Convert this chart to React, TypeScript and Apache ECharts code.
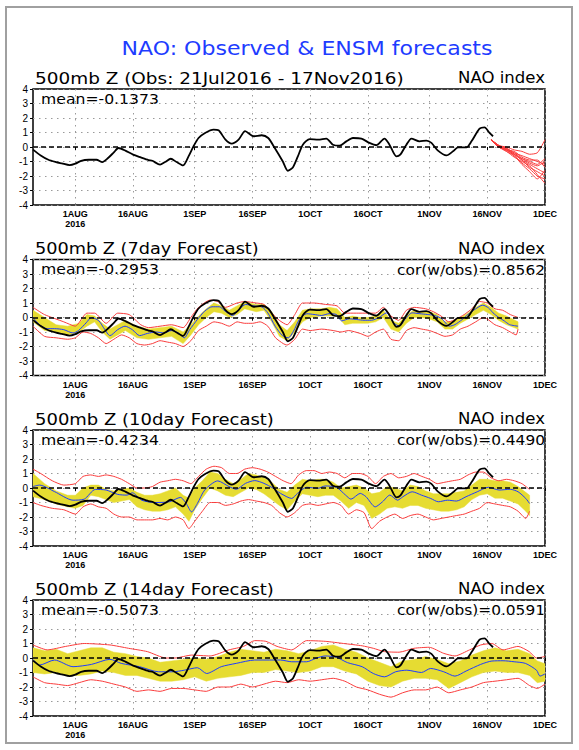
import React, { useEffect, useRef } from "react";
import * as echarts from "echarts";

// ---------- texts ----------
const TITLE = "NAO: Observed & ENSM forecasts";
const headers = [
  "500mb Z (Obs: 21Jul2016 - 17Nov2016)",
  "500mb Z (7day Forecast)",
  "500mb Z (10day Forecast)",
  "500mb Z (14day Forecast)",
];
const indexLabel = "NAO index";
const meanLabels = ["mean=-0.1373", "mean=-0.2953", "mean=-0.4234", "mean=-0.5073"];
const corLabels = ["", "cor(w/obs)=0.8562", "cor(w/obs)=0.4490", "cor(w/obs)=0.0591"];

// x axis: days since 21 Jul 2016
const tickDays = [11, 26, 42, 57, 72, 87, 103, 118, 133];
const tickLabels = ["1AUG\n2016", "16AUG", "1SEP", "16SEP", "1OCT", "16OCT", "1NOV", "16NOV", "1DEC"];
const yTicks = [-4, -3, -2, -1, 0, 1, 2, 3, 4];

// ---------- observed NAO [day, value] ----------
const observed: [number, number][] = [
  [0, -0.18], [2, -0.58], [4, -0.88], [6, -1.04], [7.5, -1.13], [9.5, -1.25], [11, -1.15], [12.5, -0.95],
  [14.5, -0.88], [16.5, -0.88], [18, -1.04], [19.5, -0.76], [21, -0.37], [22.2, -0.07], [24, -0.25],
  [26, -0.53], [28, -0.72], [30, -0.9], [31, -0.95], [33, -1.22], [34.3, -1.04], [35.8, -0.81],
  [37.3, -1.04], [39, -1.27], [40.4, -0.65], [41.7, 0.05], [43, 0.62], [44.7, 0.97], [46.9, 1.2],
  [48.2, 1.15], [50, 0.51], [51.6, 0.23], [53.4, 0.51], [55.1, 1.09], [57.3, 0.74], [59.4, 0.81],
  [61.1, 0.62], [62.8, -0.07], [64.9, -1.0], [66.2, -1.64], [67.5, -1.41], [68.8, -0.65], [70.1, 0.16],
  [71.9, 0.55], [74.1, 0.51], [76.2, 0.58], [77.9, 0.16], [79.6, 0.09], [81.4, 0.39], [83.1, 0.62],
  [85.3, 0.58], [87.4, 0.28], [89.2, 0.12], [91.3, 0.58], [92.6, 0.16], [94.4, -0.65], [95.4, -0.53],
  [97, 0.16], [98.3, 0.58], [100.4, 0.39], [102.2, 0.44], [103.5, 0.28], [105.2, -0.25], [107.4, -0.58],
  [109.1, -0.3], [110.4, -0.02], [112.6, -0.02], [113.9, 0.39], [116, 1.27], [117.3, 1.36], [118.6, 0.97],
  [119.5, 0.74],
];

// ---------- panel 1: ensemble members (17Nov -> 1Dec) ----------
const memberDays = [119, 121, 123, 125, 127, 129, 131, 133];
const members: number[][] = [
  [0.5, 0.1, -0.1, -0.4, -0.6, -0.8, -1.0, -1.2],
  [0.5, 0.0, -0.2, -0.5, -0.9, -1.2, -1.5, -1.8],
  [0.5, 0.1, 0.0, -0.2, -0.3, -0.5, -0.4, 0.5],
  [0.5, 0.0, -0.3, -0.7, -1.0, -1.3, -1.9, -2.5],
  [0.5, 0.1, -0.2, -0.6, -1.1, -1.5, -2.0, -2.2],
  [0.5, 0.0, -0.1, -0.4, -0.8, -1.1, -1.3, -1.0],
  [0.5, 0.0, -0.3, -0.6, -1.2, -1.7, -2.2, -1.6],
  [0.5, 0.1, -0.2, -0.3, -0.7, -0.9, -0.9, -1.4],
  [0.5, 0.0, -0.2, -0.5, -0.9, -1.4, -1.7, -2.0],
  [0.5, 0.1, -0.1, -0.5, -0.8, -1.0, -1.2, -0.8],
];

// ---------- panel 2: 7day forecast ----------
const mean7: [number, number][] = [
  [0, 0], [1.7, -0.5], [3.7, -0.77], [5.6, -0.77], [8, -0.84], [10.4, -1.07], [11.8, -0.9], [13.8, -0.37],
  [15.2, 0], [17.1, -0.23], [18.6, -0.81], [20, -1.25], [22, -0.84], [23.9, -0.6], [25.8, -0.84],
  [27.7, -1.25], [29.7, -1.1], [32, -1.0], [34, -1.07], [35.9, -0.9], [37.8, -1.07], [39.3, -1.4],
  [40.7, -0.84], [42.7, -0.14], [44.6, 0.44], [46.5, 0.74], [48.4, 0.74], [49.9, 0.44], [51.8, 0.14],
  [53.7, 0.58], [55.2, 0.9], [57.6, 0.79], [59.5, 0.72], [61, 0.32], [62.9, -0.6], [64.8, -1.25],
  [66.3, -1.4], [67.7, -0.93], [69.2, -0.14], [71.1, 0.26], [73, 0.21], [74.9, 0.14], [76.9, 0.26],
  [78.8, 0.21], [80.2, -0.23], [82.2, -0.09], [84.1, -0.14], [86, -0.19], [87.9, -0.19], [89.9, 0],
  [91.8, 0.32], [93.7, -0.37], [95.2, -0.6], [96.6, -0.14], [98.5, 0.32], [100.5, 0.26], [102.4, 0.21],
  [104.3, 0.14], [106.2, -0.09], [108.2, -0.6], [109.6, -0.49], [111.5, -0.14], [113, 0.21],
  [114.9, 0.58], [116.8, 0.85], [118.3, 0.67], [119.5, 0.32], [120.9, 0.02], [122.4, -0.23],
  [123.8, -0.49], [126, -0.6],
];
const band7Days = [0, 3, 6, 9, 12, 14, 16, 18, 20, 22, 24, 27, 30, 33, 36, 39, 41, 43, 45, 47, 49, 51, 53, 55, 58, 60, 62, 64, 66, 68, 70, 72, 75, 77, 79, 81, 83, 85, 87, 89, 91, 93, 95, 97, 99, 101, 103, 105, 107, 109, 111, 113, 115, 117, 119, 121, 123, 126];
const band7Upper = [0.5, 0.0, -0.5, -0.6, -0.4, 0.2, 0.1, -0.4, -0.8, -0.5, -0.2, -0.6, -0.8, -0.7, -0.6, -1.0, -0.5, 0.1, 0.6, 1.0, 0.8, 0.5, 0.8, 1.1, 0.9, 0.9, 0.4, -0.5, -0.9, -0.3, 0.5, 0.6, 0.6, 0.7, 0.6, 0.0, 0.1, 0.0, 0.0, 0.1, 0.5, -0.2, -0.4, 0.2, 0.5, 0.4, 0.4, 0.2, -0.3, -0.3, 0.0, 0.3, 0.7, 1.0, 0.7, 0.3, 0.1, -0.3];
const band7Lower = [-0.3, -0.9, -1.0, -1.2, -1.0, -0.6, -0.3, -1.0, -1.5, -1.2, -0.9, -1.4, -1.5, -1.4, -1.3, -1.8, -1.2, -0.5, 0.0, 0.4, 0.3, 0.0, 0.2, 0.6, 0.4, 0.5, -0.3, -1.3, -1.6, -1.0, -0.3, 0.0, 0.1, 0.1, 0.1, -0.5, -0.4, -0.4, -0.4, -0.3, 0.0, -0.8, -1.0, -0.4, 0.0, 0.0, -0.1, -0.3, -0.8, -0.8, -0.4, -0.1, 0.2, 0.5, 0.2, -0.2, -0.5, -0.8];
const red7Upper: [number, number][] = [
  [0, 0.7], [3, 0.2], [8, -0.3], [11, -0.6], [14, 0.3], [16, 0.3], [19, -0.4], [22, 0.3], [25, 0.2],
  [28, -0.5], [30, -0.7], [33, -0.6], [36, -0.5], [39, -0.7], [41, 0.0], [43, 0.7], [46, 1.2], [48, 1.1],
  [50, 0.7], [53, 1.0], [55, 1.1], [58, 1.0], [60, 0.9], [62, 0.3], [64, -0.2], [66, -0.5], [68, 0.2],
  [70, 1.0], [73, 1.0], [76, 0.9], [79, 0.8], [81, 0.3], [84, 0.3], [87, 0.3], [89, 0.3], [91, 0.7],
  [93, 0.1], [95, -0.2], [97, 0.5], [99, 0.7], [102, 0.6], [104, 0.4], [106, 0.1], [108, -0.3],
  [110, -0.1], [112, 0.2], [114, 0.6], [116, 1.1], [118, 1.0], [120, 0.6], [122, 0.5], [124, 0.2], [126, 0.0],
];
const red7Lower: [number, number][] = [
  [0, -0.6], [3, -1.3], [6, -1.4], [9, -1.5], [11, -1.4], [13, -1.0], [15, -1.1], [17, -1.4], [19, -1.8],
  [21, -1.5], [23, -1.2], [25, -1.4], [27, -1.8], [29, -1.9], [31, -1.8], [33, -1.6], [35, -1.7],
  [37, -1.8], [39, -2.0], [41, -1.6], [43, -0.9], [45, -0.6], [47, -0.3], [49, -0.4], [51, -0.6],
  [53, -0.3], [55, -0.4], [57, -0.4], [59, -0.3], [61, -0.6], [63, -1.4], [65, -1.8], [66, -1.9],
  [68, -1.5], [70, -0.8], [72, -0.9], [75, -0.8], [78, -0.9], [80, -1.0], [82, -0.9], [85, -1.1],
  [87, -1.3], [89, -1.0], [91, -0.8], [93, -1.5], [95, -1.6], [97, -0.9], [99, -0.7], [101, -0.8],
  [103, -0.9], [105, -1.1], [107, -1.3], [109, -1.2], [111, -0.8], [113, -0.6], [115, -0.3], [117, 0.0],
  [118, -0.1], [120, -0.5], [122, -0.7], [124, -1.0], [125.5, -1.2], [126, -0.8],
];

// ---------- panel 3: 10day forecast ----------
const mean10: [number, number][] = [
  [0, 0.1], [1.7, 0.2], [5.6, -0.25], [10.4, -0.84], [13.3, -0.77], [16.2, -0.1], [19, -0.14], [22, -0.44],
  [24.4, -0.49], [25.8, -0.33], [28.2, -0.84], [31.6, -1.0], [35.4, -0.95], [38.3, -0.65], [39.8, -1.07],
  [41.2, -1.65], [42.7, -1.07], [44.6, -0.14], [48, 0.49], [50.9, 0.1], [52.8, -0.09], [55.2, 0.32],
  [57.6, 0.51], [60, 0.32], [62.4, -0.02], [64.3, -0.37], [67.2, -0.72], [68.7, -0.37], [71.1, 0.05],
  [74, -0.02], [75.9, 0.14], [78.8, 0.05], [81.2, -0.49], [82.6, -0.77], [85, -0.37], [86.5, -0.6],
  [88.9, -1.3], [90.8, -0.95], [92.7, -0.49], [94.7, -0.84], [96.1, -0.6], [98.5, -0.26], [100.9, -0.49],
  [103.3, -0.72], [105.3, -0.95], [107.7, -0.84], [110, -0.9], [112.5, -0.6], [115.4, -0.26],
  [118.3, 0.05], [121.1, -0.14], [124, -0.09], [126, -0.26], [128, -0.72], [129, -1.07],
];
const band10Days = [0, 3, 6, 9, 11, 13, 15, 17, 19, 21, 23, 25, 27, 29, 31, 33, 35, 37, 39, 40.5, 42, 44, 46, 48, 50, 52, 54, 56, 58, 60, 62, 64, 66, 68, 70, 72, 74, 76, 78, 80, 82, 84, 86, 88, 90, 92, 94, 96, 98, 100, 102, 104, 106, 108, 110, 112, 114, 116, 118, 120, 122, 124, 126, 128, 129];
const band10Upper = [1.0, 0.3, -0.2, -0.5, -0.5, 0.0, 0.2, 0.2, -0.1, -0.2, -0.1, 0.0, -0.3, -0.5, -0.5, -0.4, -0.2, 0.0, -0.5, -0.7, 0.0, 0.5, 1.1, 1.0, 0.6, 0.3, 0.6, 1.0, 0.9, 0.7, 0.4, -0.1, -0.3, 0.2, 0.6, 0.5, 0.6, 0.6, 0.4, 0.0, 0.1, 0.2, 0.0, -0.4, -0.3, 0.1, 0.0, -0.2, 0.2, 0.1, -0.2, -0.4, -0.4, -0.4, -0.3, -0.2, 0.2, 0.6, 0.6, 0.5, 0.5, 0.4, 0.1, -0.3, -0.5];
const band10Lower = [-0.6, -0.8, -1.1, -1.3, -1.4, -1.2, -0.5, -0.6, -0.8, -1.0, -0.9, -0.8, -1.3, -1.5, -1.6, -1.6, -1.5, -1.3, -1.8, -2.3, -1.5, -0.7, 0.0, -0.2, -0.5, -0.6, -0.3, 0.0, -0.1, -0.4, -0.8, -1.2, -1.5, -0.9, -0.4, -0.5, -0.6, -0.5, -0.5, -0.9, -1.4, -1.0, -1.2, -2.1, -1.8, -1.4, -1.3, -1.4, -1.2, -1.2, -1.4, -1.5, -1.6, -1.6, -1.5, -1.3, -0.8, -0.5, -0.4, -0.7, -0.7, -0.9, -1.1, -1.6, -1.9];
const red10Upper: [number, number][] = [
  [0, 1.3], [2, 1.0], [5, 0.5], [8, 0.2], [11, 0.3], [13, 0.8], [15, 0.9], [17, 0.8], [19, 0.9], [21, 0.8],
  [23, 0.6], [25, 0.3], [27, 0.0], [29, 0.0], [31, 0.1], [33, 0.4], [35, 0.5], [37, 0.6], [39, 0.5],
  [41, 0.3], [43, 0.8], [45, 1.3], [47, 1.5], [49, 1.4], [51, 1.0], [53, 1.0], [55, 1.3], [57, 1.4],
  [59, 1.3], [61, 1.1], [63, 0.8], [65, 0.5], [67, 0.3], [69, 0.9], [71, 1.2], [73, 1.2], [75, 1.0],
  [77, 1.1], [79, 1.0], [81, 0.7], [83, 1.0], [85, 1.0], [87, 0.8], [89, 0.3], [91, 0.8], [93, 1.0],
  [95, 0.7], [97, 0.8], [99, 1.0], [101, 0.8], [103, 0.6], [105, 0.3], [107, 0.4], [109, 0.5], [111, 0.6],
  [113, 0.9], [115, 1.1], [117, 1.1], [119, 0.7], [121, 0.5], [123, 0.6], [125, 0.5], [127, 0.3], [129, -0.1],
];
const red10Lower: [number, number][] = [
  [0, -1.0], [2, -1.2], [5, -1.4], [8, -1.5], [11, -1.8], [13, -1.3], [15, -1.1], [17, -1.3], [19, -1.4],
  [21, -1.8], [23, -2.0], [25, -2.0], [27, -2.2], [29, -2.2], [31, -2.2], [33, -2.1], [35, -2.2],
  [37, -2.0], [39, -2.2], [40.5, -2.8], [42, -2.3], [44, -1.6], [46, -1.0], [48, -1.0], [50, -1.2],
  [52, -1.1], [54, -0.9], [56, -0.8], [58, -0.9], [60, -1.0], [62, -1.2], [64, -1.7], [66, -2.0],
  [68, -1.7], [70, -1.2], [72, -1.1], [74, -1.2], [76, -1.1], [78, -1.0], [80, -1.2], [82, -1.8],
  [84, -1.5], [86, -1.7], [88, -2.8], [90, -2.3], [92, -2.0], [94, -1.8], [96, -2.1], [98, -1.9],
  [100, -1.8], [102, -2.0], [104, -2.2], [106, -2.1], [108, -2.0], [110, -1.9], [112, -1.8], [114, -1.6],
  [116, -1.4], [118, -1.0], [120, -1.1], [122, -1.2], [124, -1.3], [126, -1.6], [128, -2.1], [129, -1.6],
];

// ---------- panel 4: 14day forecast ----------
const mean14: [number, number][] = [
  [0, -0.1], [1.7, -0.49], [5.6, -0.14], [10.4, -0.6], [15.2, -0.44], [20, -0.09], [22.9, -0.37],
  [27.7, -0.6], [32.6, -0.95], [36.4, -0.95], [39.3, -0.84], [42.7, -0.67], [45.1, -1.07], [48.9, -0.6],
  [52.8, -0.37], [57.6, -0.14], [61.4, -0.14], [64.3, -0.14], [67.2, -0.26], [71.1, -0.26], [73.5, -0.02],
  [75.9, 0.14], [78.8, 0.05], [81.7, -0.32], [85.5, -0.6], [88.4, -1.07], [91.3, -1.3], [94.2, -0.95],
  [97.1, -0.84], [100.9, -1.0], [103.3, -0.72], [106.7, -0.95], [109.6, -1.25], [112.5, -0.9],
  [116.3, -0.44], [119.2, -0.21], [122.1, -0.19], [125, -0.26], [127.9, -0.37], [130.8, -0.84],
  [131.7, -1.25], [133, -1.1],
];
const band14Days = [0, 3, 6, 9, 12, 15, 18, 21, 24, 27, 30, 33, 36, 39, 42, 45, 48, 51, 54, 57, 60, 63, 66, 69, 72, 75, 78, 81, 84, 87, 90, 93, 96, 99, 102, 105, 108, 111, 114, 117, 120, 123, 126, 129, 131, 133];
const band14Upper = [0.7, 0.5, 0.6, 0.3, 0.5, 0.7, 0.7, 0.4, 0.3, 0.1, 0.0, -0.3, -0.2, -0.1, 0.0, -0.1, 0.1, 0.4, 0.6, 0.5, 0.4, 0.6, 0.5, 0.3, 0.5, 0.8, 0.9, 0.6, 0.4, 0.0, -0.3, -0.6, -0.2, -0.1, 0.1, -0.1, -0.4, -0.2, 0.2, 0.5, 0.7, 0.5, 0.6, 0.3, -0.2, -0.4];
const band14Lower = [-1.0, -1.1, -1.0, -1.2, -1.2, -1.1, -0.9, -1.0, -1.2, -1.2, -1.4, -1.6, -1.6, -1.5, -1.3, -1.6, -1.4, -1.3, -1.2, -1.0, -1.0, -0.8, -0.9, -1.0, -0.9, -0.6, -0.6, -0.9, -1.1, -1.6, -1.9, -2.0, -1.6, -1.4, -1.4, -1.5, -2.1, -1.7, -1.3, -1.0, -0.9, -1.0, -1.0, -1.2, -1.7, -1.6];
const red14Upper: [number, number][] = [
  [0, 0.9], [3.7, 0.56], [8.5, 0.8], [13.3, 1.0], [20, 0.9], [24.8, 0.67], [29.7, 0.44], [34.5, 0.0],
  [36.9, 0.0], [41.2, 0.2], [46, 0.14], [50.9, 0.56], [54.7, 0.8], [57.6, 1.2], [60.5, 1.15], [63.4, 0.8],
  [67.2, 0.56], [71.1, 1.2], [75.9, 1.15], [80.7, 1.0], [85.5, 0.84], [88.4, 0.67], [91.3, 0.44],
  [95.1, 0.4], [99, 0.67], [102.9, 0.74], [106.7, 0.32], [109.6, 0.14], [113.4, 0.56], [116.3, 0.9],
  [119.2, 1.0], [122.1, 0.56], [126, 0.8], [128.9, 0.44], [130.8, 0.0], [133, 0.1],
];
const red14Lower: [number, number][] = [
  [0, -1.3], [3, -1.7], [6, -1.8], [9, -1.9], [12, -1.7], [15, -1.5], [18, -1.6], [21, -1.8], [24, -2.0],
  [27, -2.3], [30, -2.2], [33, -2.3], [36, -2.1], [39, -2.1], [42, -2.2], [45, -2.3], [48, -2.0],
  [51, -2.0], [54, -1.8], [57, -2.0], [60, -1.8], [63, -1.6], [66, -1.7], [69, -1.5], [72, -1.6],
  [75, -1.5], [78, -1.4], [81, -1.6], [84, -2.0], [87, -2.2], [90, -2.5], [93, -2.7], [96, -2.4],
  [99, -2.2], [102, -2.2], [105, -2.0], [108, -2.4], [111, -2.2], [114, -2.0], [117, -1.7], [120, -1.6],
  [123, -1.5], [126, -1.4], [129, -1.9], [131, -2.1], [133, -1.8],
];

// ---------- styling / layout ----------
const BLUE = "#1e3cff";
const RED = "#fa3c3c";
const YELLOW = "#e6dc32";
const PLOT_LEFT = 33;
const PLOT_W = 512;
const PLOT_H = 116;
const TOPS = [89, 259.5, 430, 600];
const HEADER_W = [369, 224, 239, 239];

function measure(text: string, size: number, family: string): number {
  const c = document.createElement("canvas");
  const ctx = c.getContext("2d");
  if (!ctx) return text.length * size * 0.6;
  ctx.font = `${size}px ${family}`;
  return ctx.measureText(text).width;
}

function fitText(
  text: string, x: number, y: number, size: number, family: string,
  target: number, align: string, color: string
) {
  const w = measure(text, size, family);
  const s = w > 0 ? target / w : 1;
  return {
    type: "text",
    x, y, scaleX: s, scaleY: 1,
    silent: true,
    style: {
      text, fill: color, fontSize: size, fontFamily: family,
      textAlign: align, textVerticalAlign: "middle",
    },
  };
}

function bandSeries(i: number, days: number[], up: number[], lo: number[]) {
  return {
    type: "custom",
    xAxisIndex: i, yAxisIndex: i,
    silent: true, z: 1, clip: true,
    data: [[days[0], up[0]]],
    renderItem: (_p: any, api: any) => {
      const pts: number[][] = [];
      for (let k = 0; k < days.length; k++) pts.push(api.coord([days[k], up[k]]));
      for (let k = days.length - 1; k >= 0; k--) pts.push(api.coord([days[k], lo[k]]));
      return { type: "polygon", shape: { points: pts }, style: { fill: YELLOW, stroke: YELLOW, lineWidth: 0.5 } };
    },
  };
}

function lineSeries(i: number, data: [number, number][], color: string, width: number, z: number, extra: any = {}) {
  return {
    type: "line", xAxisIndex: i, yAxisIndex: i, data,
    symbol: "none", smooth: 0.25, silent: true, z,
    lineStyle: { color, width }, clip: true,
    ...extra,
  };
}

const zeroLine = {
  silent: true, symbol: ["none", "none"], label: { show: false },
  lineStyle: { color: "#000", type: [5, 3], width: 1.5 },
  data: [{ yAxis: 0 }],
};

export default function App() {
  const ref = useRef<HTMLDivElement>(null);
  useEffect(() => {
    if (!ref.current) return;
    const chart = echarts.init(ref.current, undefined, { renderer: "svg" });

    const grids = TOPS.map((t) => ({
      left: PLOT_LEFT, top: t, width: PLOT_W, height: PLOT_H,
      show: true, borderColor: "#000", borderWidth: 1.5, backgroundColor: "transparent",
      containLabel: false,
    }));
    const splitStyle = { show: true, lineStyle: { color: "#9a9a9a", width: 1, type: [1.5, 4.5] } };
    const xAxes = TOPS.map((_, i) => ({
      type: "value", gridIndex: i, min: 0, max: 133,
      axisLine: { show: false },
      axisTick: { show: true, customValues: tickDays, length: 3, lineStyle: { color: "#000", width: 1 } },
      axisLabel: {
        customValues: tickDays, color: "#000", fontSize: 9, fontWeight: "bold", lineHeight: 10, margin: 4,
        fontFamily: "Liberation Sans",
        formatter: (v: number) => {
          const k = tickDays.indexOf(Math.round(v));
          return k >= 0 ? tickLabels[k] : "";
        },
      },
      splitLine: splitStyle,
    }));
    const yAxes = TOPS.map((_, i) => ({
      type: "value", gridIndex: i, min: -4, max: 4, interval: 1,
      axisLine: { show: false },
      axisTick: { show: true, length: 3, lineStyle: { color: "#000", width: 1 } },
      axisLabel: {
        color: "#000", fontSize: 10, margin: 5, fontFamily: "Liberation Sans",
        formatter: (v: number) => (yTicks.indexOf(v) >= 0 ? String(v) : ""),
      },
      splitLine: splitStyle,
    }));

    const series: any[] = [];
    // panel 1
    members.forEach((m) => {
      series.push(lineSeries(0, memberDays.map((d, k) => [d, m[k]] as [number, number]), RED, 1, 3, { smooth: 0.2 }));
    });
    series.push(lineSeries(0, observed, "#000", 1.8, 6, { markLine: zeroLine }));
    // panels 2-4
    const panels = [
      { mean: mean7, bd: band7Days, bu: band7Upper, bl: band7Lower, ru: red7Upper, rl: red7Lower },
      { mean: mean10, bd: band10Days, bu: band10Upper, bl: band10Lower, ru: red10Upper, rl: red10Lower },
      { mean: mean14, bd: band14Days, bu: band14Upper, bl: band14Lower, ru: red14Upper, rl: red14Lower },
    ];
    panels.forEach((p, j) => {
      const i = j + 1;
      series.push(bandSeries(i, p.bd, p.bu, p.bl));
      series.push(lineSeries(i, p.ru, RED, 1, 3, { smooth: 0.2 }));
      series.push(lineSeries(i, p.rl, RED, 1, 3, { smooth: 0.2 }));
      series.push(lineSeries(i, p.mean, BLUE, 1, 4));
      series.push(lineSeries(i, observed, "#000", 1.8, 6, { markLine: zeroLine }));
    });

    const FONT = "DejaVu Sans";
    const graphics: any[] = [
      {
        type: "rect", silent: true, z: -1,
        shape: { x: 6, y: 7, width: 566, height: 736 },
        style: { fill: "none", stroke: "#a0a0a0", lineWidth: 2 },
      },
      fitText(TITLE, 307, 49, 19, FONT, 371, "center", BLUE),
    ];
    TOPS.forEach((t, i) => {
      graphics.push(fitText(headers[i], 35, t - 11, 16, FONT, HEADER_W[i], "left", "#000"));
      graphics.push(fitText(indexLabel, 545, t - 11, 16, FONT, 87, "right", "#000"));
      graphics.push(fitText(meanLabels[i], 41, t + 10, 14, FONT, 118, "left", "#000"));
      if (corLabels[i]) graphics.push(fitText(corLabels[i], 545, t + 10, 14, FONT, 148, "right", "#000"));
    });

    chart.setOption({
      animation: false,
      backgroundColor: "#fff",
      grid: grids,
      xAxis: xAxes,
      yAxis: yAxes,
      series,
      graphic: graphics,
    });
    return () => chart.dispose();
  }, []);
  return (
    <div
      ref={ref}
      style={{ position: "absolute", left: 0, top: 0, width: 579, height: 750, background: "#fff" }}
    />
  );
}
